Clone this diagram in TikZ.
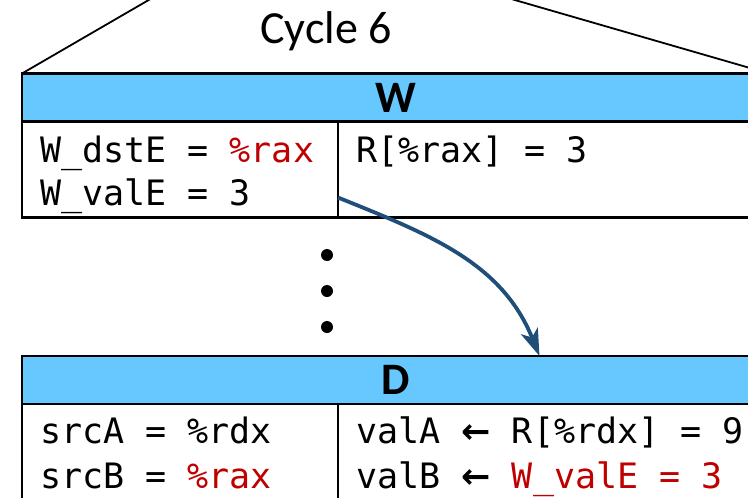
\documentclass[tikz,border=0pt]{standalone}
\usepackage{fontspec}
\setmainfont{Carlito}
\newfontfamily\codefont{DejaVu Sans Mono}
\newfontfamily\arrowfont{DejaVu Sans}
\usetikzlibrary{arrows.meta}
\definecolor{stageblue}{RGB}{102,200,255}
\definecolor{flowblue}{RGB}{31,78,121}
\definecolor{hotred}{RGB}{192,0,0}
\newcommand{\getsarrow}{{\arrowfont\bfseries ←}}

\begin{document}
\begin{tikzpicture}[
    x=1pt, y=-1pt,
    stagebar/.style={rectangle, draw=black, fill=stageblue, line width=2.8pt, outer sep=0pt, inner sep=0pt, minimum width=747pt, minimum height=48pt, font=\fontsize{45}{50}\selectfont\bfseries},
    cellbox/.style={rectangle, draw=black, line width=2.5pt, outer sep=0pt, inner sep=0pt, minimum height=96pt, anchor=north west},
    code/.style={anchor=base west, inner sep=0pt, font=\codefont\fontsize{35}{40}\selectfont},
    dotmark/.style={circle, fill=black, inner sep=0pt, minimum size=12pt},
    flow/.style={-{Stealth[length=27pt, width=18pt, inset=7pt]}, line width=3.8pt, draw=flowblue},
    zoomline/.style={line width=1.8pt},
]
\useasboundingbox (0,0) rectangle (748,498);
\clip (0,0) rectangle (748,498);

% writeback stage, cycle 6
\node[stagebar] (whead) at (395.5,97.5) {W};
\node[cellbox, minimum width=316pt] (wleft) at (whead.south west) {};
\node[cellbox, minimum width=431pt] (wright) at (wleft.north east) {};
\draw[zoomline] (whead.north west) -- (178,-17);
\draw[zoomline] (whead.north east) -- (456,-17);
\node[font=\fontsize{46}{50}\selectfont, anchor=base] (cyc) at (326,43) {Cycle 6};
\node[code] (wdst) at (40,162) {W\_dstE = \textcolor{hotred}{\%rax}};
\node[code] (wval) at (40,205) {W\_valE = 3};
\node[code] (regw) at (356,162) {R[\%rax] = 3};

% stages in between
\node[dotmark] (dot1) at (327,255) {};
\node[dotmark] (dot2) at (327,291) {};
\node[dotmark] (dot3) at (327,327) {};

% decode stage
\node[stagebar] (dhead) at (395.5,380) {D};
\node[cellbox, minimum width=316pt] (dleft) at (dhead.south west) {};
\node[cellbox, minimum width=431pt] (dright) at (dleft.north east) {};
\node[code] (srca) at (40,443) {srcA = \%rdx};
\node[code] (srcb) at (40,488) {srcB = \textcolor{hotred}{\%rax}};
\node[code] (vala) at (356,443) {valA \getsarrow{} R[\%rdx] = 9};
\node[code] (valb) at (356,488) {valB \getsarrow{} \textcolor{hotred}{W\_valE = 3}};

% forwarding
\draw[flow] ([yshift=20pt]wleft.south east) to[out=-22, in=112] ([xshift=144pt]dhead.north);
\end{tikzpicture}
\end{document}
